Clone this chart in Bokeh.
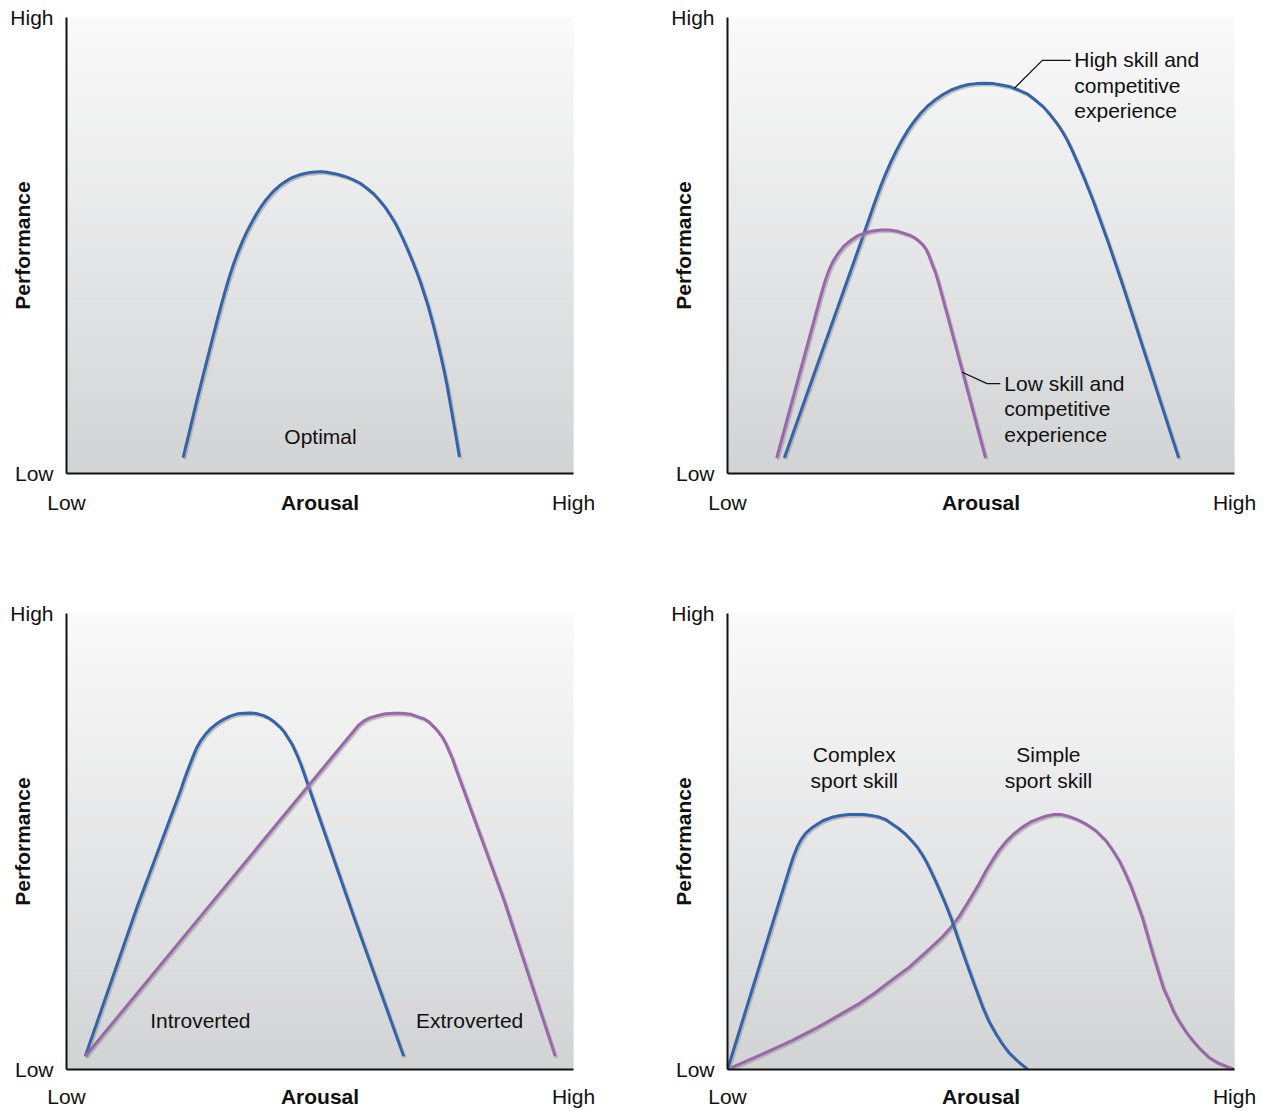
import numpy as np
from bokeh.plotting import figure
from bokeh.layouts import column, row
from bokeh.models import Range1d, FixedTicker
from bokeh.core.properties import value
from bokeh.embed import file_html
from bokeh.resources import INLINE

FONT = "Liberation Sans"
TICKS = [0, 1]
TICK_LABELS = {0: "Low", 1: "High"}
X_TITLE = "Arousal"
Y_TITLE = "Performance"

BLUE = "#3563a9"
PURPLE = "#9868a8"

# ---- Panel 1: Optimal ----
p1_x = [0.230, 0.244, 0.257, 0.272, 0.287, 0.299, 0.311, 0.320, 0.329, 0.338, 0.347, 0.356,
        0.365, 0.374, 0.383, 0.392, 0.401, 0.410, 0.420, 0.430, 0.440, 0.450, 0.460, 0.470,
        0.480, 0.490, 0.501, 0.511, 0.521, 0.531, 0.541, 0.553, 0.566, 0.580, 0.593, 0.606,
        0.618, 0.629, 0.639, 0.649, 0.657, 0.665, 0.674, 0.682, 0.690, 0.698, 0.705, 0.712,
        0.718, 0.724, 0.731, 0.738, 0.745, 0.751, 0.757, 0.763, 0.769, 0.775]
p1_y = [0.035, 0.099, 0.160, 0.226, 0.292, 0.344, 0.393, 0.427, 0.458, 0.485, 0.509, 0.531,
        0.550, 0.568, 0.584, 0.598, 0.610, 0.621, 0.631, 0.639, 0.646, 0.651, 0.655, 0.658,
        0.660, 0.661, 0.662, 0.661, 0.659, 0.657, 0.654, 0.650, 0.644, 0.636, 0.625, 0.613,
        0.598, 0.583, 0.566, 0.548, 0.530, 0.511, 0.488, 0.467, 0.444, 0.420, 0.396, 0.372,
        0.348, 0.323, 0.292, 0.259, 0.224, 0.191, 0.153, 0.115, 0.076, 0.036]
p1_labels = ["Optimal"]
p1_label_x = [0.501]
p1_label_y = [0.081]

# ---- Panel 2: skill and experience ----
high_skill_x = [0.112, 0.276, 0.288, 0.300, 0.311, 0.322, 0.333, 0.344, 0.356, 0.368, 0.381,
                0.394, 0.409, 0.425, 0.441, 0.458, 0.475, 0.491, 0.507, 0.525, 0.540, 0.558,
                0.574, 0.592, 0.607, 0.623, 0.637, 0.651, 0.661, 0.671, 0.680, 0.690, 0.706,
                0.722, 0.750, 0.779, 0.890]
high_skill_y = [0.034, 0.548, 0.587, 0.624, 0.655, 0.683, 0.708, 0.731, 0.753, 0.772, 0.790,
                0.805, 0.819, 0.831, 0.841, 0.848, 0.853, 0.855, 0.856, 0.855, 0.852, 0.848,
                0.841, 0.832, 0.819, 0.804, 0.786, 0.766, 0.749, 0.729, 0.708, 0.683, 0.641,
                0.596, 0.510, 0.415, 0.034]
low_skill_x = [0.097, 0.183, 0.191, 0.199, 0.207, 0.217, 0.229, 0.243, 0.256, 0.270,
               0.286, 0.302, 0.318, 0.333, 0.347, 0.361, 0.373, 0.384, 0.392, 0.398, 0.404,
               0.410, 0.416, 0.433, 0.463, 0.509]
low_skill_y = [0.034, 0.386, 0.417, 0.443, 0.463, 0.481, 0.498, 0.511, 0.521, 0.527,
               0.532, 0.534, 0.534, 0.532, 0.527, 0.522, 0.514, 0.503, 0.491, 0.476, 0.458,
               0.441, 0.419, 0.350, 0.226, 0.034]
p2_labels = ["High skill and\ncompetitive\nexperience", "Low skill and\ncompetitive\nexperience"]
p2_label_x = [0.684, 0.546]
p2_label_y = [0.933, 0.223]
high_leader_x = [0.566, 0.621, 0.677]
high_leader_y = [0.845, 0.906, 0.906]
low_leader_x = [0.463, 0.512, 0.538]
low_leader_y = [0.222, 0.197, 0.197]

# ---- Panel 3: introverted / extroverted ----
intro_x = [0.037, 0.139, 0.225, 0.233, 0.241, 0.249, 0.256, 0.264, 0.274, 0.284, 0.296, 0.310,
           0.323, 0.337, 0.350, 0.363, 0.377, 0.389, 0.400, 0.410, 0.420, 0.429, 0.437, 0.445,
           0.453, 0.462, 0.567, 0.665]
intro_y = [0.029, 0.356, 0.612, 0.638, 0.662, 0.685, 0.704, 0.720, 0.735, 0.747, 0.758, 0.768,
           0.775, 0.780, 0.781, 0.782, 0.780, 0.776, 0.770, 0.762, 0.752, 0.741, 0.727, 0.713,
           0.694, 0.670, 0.334, 0.029]
extro_x = [0.037, 0.304, 0.567, 0.576, 0.586, 0.598, 0.613, 0.629, 0.646, 0.661, 0.679, 0.692,
           0.705, 0.715, 0.724, 0.733, 0.741, 0.748, 0.754, 0.761, 0.767, 0.863, 0.964]
extro_y = [0.029, 0.389, 0.743, 0.755, 0.764, 0.771, 0.776, 0.780, 0.781, 0.781, 0.779, 0.774,
           0.769, 0.762, 0.752, 0.741, 0.729, 0.715, 0.700, 0.682, 0.663, 0.371, 0.029]
p3_labels = ["Introverted", "Extroverted"]
p3_label_x = [0.264, 0.795]
p3_label_y = [0.107, 0.107]

# ---- Panel 4: complex / simple sport skill ----
complex_x = [0.0, 0.124, 0.130, 0.137, 0.145, 0.154, 0.165, 0.177, 0.189, 0.206, 0.223, 0.239,
             0.252, 0.268, 0.284, 0.298, 0.312, 0.324, 0.337, 0.351, 0.363, 0.374, 0.383, 0.391,
             0.400, 0.410, 0.420, 0.430, 0.442, 0.456, 0.472, 0.489, 0.503, 0.515, 0.529, 0.542,
             0.555, 0.568, 0.578, 0.588, 0.592]
complex_y = [0.0, 0.447, 0.467, 0.487, 0.504, 0.518, 0.529, 0.538, 0.546, 0.553, 0.557, 0.559,
             0.559, 0.559, 0.557, 0.554, 0.548, 0.539, 0.529, 0.516, 0.502, 0.488, 0.473, 0.458,
             0.438, 0.414, 0.389, 0.363, 0.329, 0.283, 0.232, 0.180, 0.138, 0.107, 0.079, 0.056,
             0.037, 0.023, 0.013, 0.004, 0.0]
simple_x = [0.0, 0.045, 0.085, 0.128, 0.174, 0.215, 0.259, 0.292, 0.325, 0.358, 0.391, 0.423,
            0.440, 0.456, 0.475, 0.496, 0.509, 0.522, 0.535, 0.548, 0.564, 0.581, 0.598, 0.614,
            0.629, 0.644, 0.659, 0.673, 0.690, 0.706, 0.726, 0.746, 0.759, 0.773, 0.785, 0.795,
            0.806, 0.818, 0.828, 0.838, 0.851, 0.860, 0.871, 0.880, 0.890, 0.904, 0.917, 0.933,
            0.949, 0.968, 0.984, 1.0]
simple_y = [0.0, 0.022, 0.042, 0.064, 0.090, 0.116, 0.144, 0.169, 0.197, 0.224, 0.257, 0.290,
            0.311, 0.334, 0.368, 0.407, 0.434, 0.458, 0.480, 0.498, 0.516, 0.531, 0.543, 0.550,
            0.556, 0.559, 0.559, 0.555, 0.548, 0.539, 0.524, 0.502, 0.482, 0.457, 0.429, 0.404,
            0.371, 0.334, 0.296, 0.257, 0.210, 0.178, 0.151, 0.127, 0.107, 0.083, 0.064, 0.044,
            0.027, 0.014, 0.007, 0.0]
p4_labels = ["Complex\nsport skill", "Simple\nsport skill"]
p4_label_x = [0.250, 0.633]
p4_label_y = [0.716, 0.716]

# background gradient (style)
N_STRIPS = 90
GRAD_TOP = np.array([250, 250, 250])
GRAD_BOT = np.array([210, 211, 213])


def make_panel(width, height, right_border, bottom_border, xlabel_standoff):
    p = figure(width=width, height=height, x_range=Range1d(0, 1), y_range=Range1d(0, 1),
               output_backend="svg", toolbar_location=None,
               min_border_left=66, min_border_right=right_border,
               min_border_top=17, min_border_bottom=bottom_border)
    p.grid.visible = False
    p.outline_line_color = None
    p.background_fill_color = "white"
    p.border_fill_color = "white"

    edges = np.linspace(0, 1, N_STRIPS + 1)
    t = (edges[:-1] + edges[1:]) / 2
    cols = []
    for f in t:
        c = GRAD_BOT + (GRAD_TOP - GRAD_BOT) * f
        cols.append("#%02x%02x%02x" % tuple(int(round(v)) for v in c))
    p.quad(left=0, right=1, bottom=edges[:-1], top=edges[1:], fill_color=cols,
           line_color=cols, line_width=1)

    for ax in (p.xaxis[0], p.yaxis[0]):
        ax.ticker = FixedTicker(ticks=TICKS)
        ax.major_label_overrides = TICK_LABELS
        ax.major_tick_line_color = None
        ax.minor_tick_line_color = None
        ax.major_tick_out = 0
        ax.major_tick_in = 0
        ax.axis_line_color = "#111111"
        ax.axis_line_width = 2
        ax.major_label_text_font = FONT
        ax.major_label_text_font_size = "21px"
        ax.major_label_text_color = "#111111"
        ax.axis_label_text_font = FONT
        ax.axis_label_text_font_size = "21px"
        ax.axis_label_text_font_style = "bold"
        ax.axis_label_text_color = "#111111"

    p.xaxis.axis_label = X_TITLE
    p.xaxis.major_label_standoff = xlabel_standoff
    p.xaxis.axis_label_standoff = -26
    p.yaxis.axis_label = Y_TITLE
    p.yaxis.major_label_standoff = 13
    p.yaxis.axis_label_standoff = -27
    return p


def curve(p, xs, ys, color):
    xs = np.array(xs)
    ys = np.array(ys)
    p.line(xs + 0.003, ys - 0.0035, line_color="#9c9da0", line_alpha=0.6, line_width=3,
           line_join="round")
    p.line(xs, ys, line_color=color, line_width=3, line_join="round")


def labels(p, xs, ys, texts, align="center", baseline="middle"):
    p.text(x=xs, y=ys, text=texts, text_font=value(FONT), text_font_size=value("21px"),
           text_color="#111111", text_align=align, text_baseline=baseline,
           text_line_height=1.11)


W_LEFT, W_RIGHT = 661, 603
H_TOP, H_BOT = 596, 514

f1 = make_panel(W_LEFT, H_TOP, 88, 123, 17)
curve(f1, p1_x, p1_y, BLUE)
labels(f1, p1_label_x, p1_label_y, p1_labels)

f2 = make_panel(W_RIGHT, H_TOP, 30, 123, 17)
curve(f2, high_skill_x, high_skill_y, BLUE)
curve(f2, low_skill_x, low_skill_y, PURPLE)
f2.line(high_leader_x, high_leader_y, line_color="#111111", line_width=1.3)
f2.line(low_leader_x, low_leader_y, line_color="#111111", line_width=1.3)
labels(f2, p2_label_x, p2_label_y, p2_labels, align="left", baseline="top")

f3 = make_panel(W_LEFT, H_BOT, 88, 41, 15)
curve(f3, intro_x, intro_y, BLUE)
curve(f3, extro_x, extro_y, PURPLE)
labels(f3, p3_label_x, p3_label_y, p3_labels)

f4 = make_panel(W_RIGHT, H_BOT, 30, 41, 15)
curve(f4, simple_x, simple_y, PURPLE)
curve(f4, complex_x, complex_y, BLUE)
labels(f4, p4_label_x, p4_label_y, p4_labels, baseline="top")

layout = column(row(f1, f2), row(f3, f4))

open("out.html", "w").write(file_html(layout, INLINE))
